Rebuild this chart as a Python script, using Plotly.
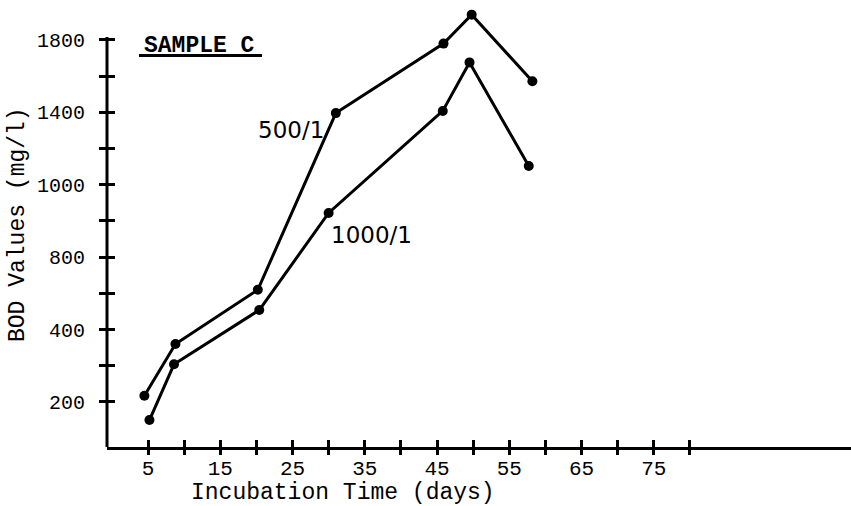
import numpy as np
import plotly.graph_objects as go

# ---- data ----
days_500 = [4.5, 8.8, 20.2, 31.0, 45.9, 49.8, 58.2]
bod_500 = [217, 360, 620, 1396, 1780, 1940, 1572]

days_1000 = [5.2, 8.6, 20.4, 30.0, 45.8, 49.5, 57.7]
bod_1000 = [150, 304, 508, 922, 1408, 1676, 1104]

y_tick_labels = [200, 400, 800, 1000, 1400, 1800]
x_tick_labels = [5, 15, 25, 35, 45, 55, 65, 75]
x_tick_marks = list(range(5, 85, 5))

series_names = ["500/1", "1000/1"]

# the printed y axis is evenly spaced between its (uneven) labels
idx = np.arange(1, len(y_tick_labels) + 1, dtype=float)


def to_axis(values):
    v = np.asarray(values, dtype=float)
    out = np.interp(v, y_tick_labels, idx)
    lo = v < y_tick_labels[0]
    out[lo] = idx[0] + (v[lo] - y_tick_labels[0]) / (y_tick_labels[1] - y_tick_labels[0])
    hi = v > y_tick_labels[-1]
    out[hi] = idx[-1] + (v[hi] - y_tick_labels[-1]) / (y_tick_labels[-1] - y_tick_labels[-2])
    return out


y_tickvals = list(np.arange(1, len(y_tick_labels) + 0.01, 0.5))
y_ticktext = [str(y_tick_labels[int(t) - 1]) if float(t).is_integer() else "" for t in y_tickvals]
x_ticktext = [str(t) if t in x_tick_labels else "" for t in x_tick_marks]

MONO = "Liberation Mono"
X_RANGE = [-0.675, 102.3]
Y_AXIS_TOP = 6.041
Y_RANGE = [0.378, 6.483]

fig = go.Figure()
for days, bod in [(days_500, bod_500), (days_1000, bod_1000)]:
    fig.add_trace(go.Scatter(
        x=days, y=to_axis(bod), mode="lines+markers",
        line=dict(color="black", width=3),
        marker=dict(color="black", size=10),
        cliponaxis=False, showlegend=False,
    ))

fig.update_layout(
    width=851, height=506, autosize=False,
    margin=dict(l=107, r=0, t=5, b=59),
    paper_bgcolor="white", plot_bgcolor="white",
    xaxis=dict(
        range=X_RANGE, tickmode="array", tickvals=x_tick_marks, ticktext=x_ticktext,
        ticks="outside", ticklen=5, tickwidth=2.5, tickcolor="black",
        showline=True, linecolor="black", linewidth=3,
        showgrid=False, zeroline=False, ticklabelstandoff=-5,
        tickfont=dict(family=MONO, size=21, color="black"),
    ),
    yaxis=dict(
        range=Y_RANGE, tickmode="array", tickvals=y_tickvals, ticktext=y_ticktext,
        ticks="outside", ticklen=7, tickwidth=2.5, tickcolor="black",
        showline=False,
        showgrid=False, zeroline=False, ticklabelstandoff=10,
        tickfont=dict(family=MONO, size=20, color="black"),
    ),
    xaxis2=dict(
        range=X_RANGE, overlaying="x", anchor="y", side="bottom",
        tickmode="array", tickvals=x_tick_marks, showticklabels=False,
        ticks="inside", ticklen=7, tickwidth=2.5, tickcolor="black",
        showline=False, showgrid=False, zeroline=False,
    ),
    yaxis2=dict(
        range=Y_RANGE, overlaying="y", anchor="x", side="left",
        tickmode="array", tickvals=y_tickvals, showticklabels=False,
        ticks="inside", ticklen=8, tickwidth=2.5, tickcolor="black",
        showline=False, showgrid=False, zeroline=False,
    ),
)
fig.add_trace(go.Scatter(x=[], y=[], xaxis="x2", yaxis="y2", showlegend=False, hoverinfo="skip"))

# y axis line stops at the top labelled tick
fig.add_shape(type="line", xref="paper", yref="y", x0=0, x1=0,
              y0=Y_RANGE[0], y1=Y_AXIS_TOP, line=dict(color="black", width=3))

W = 744.0
H = 442.0
annotations = [
    dict(text="Incubation Time (days)", xref="paper", yref="paper",
         x=(343 - 107) / W, y=(447 - 493) / H, showarrow=False,
         xanchor="center", yanchor="middle",
         font=dict(family=MONO, size=23, color="black")),
    dict(text="BOD Values (mg/l)", xref="paper", yref="paper",
         x=(18 - 107) / W, y=(447 - 225) / H, showarrow=False, textangle=-90,
         xanchor="center", yanchor="middle",
         font=dict(family=MONO, size=23, color="black")),
    dict(text="SAMPLE C", xref="paper", yref="paper",
         x=(199 - 107) / W, y=(447 - 46) / H, showarrow=False,
         xanchor="center", yanchor="middle",
         font=dict(family=MONO, size=23, color="black", weight="bold")),
    dict(text=series_names[0], xref="x", yref="y", x=24.8, y=4.76, showarrow=False,
         xanchor="center", yanchor="middle",
         font=dict(family="DejaVu Sans", size=23, color="black")),
    dict(text=series_names[1], xref="x", yref="y", x=36.0, y=3.31, showarrow=False,
         xanchor="center", yanchor="middle",
         font=dict(family="DejaVu Sans", size=23, color="black")),
]
fig.update_layout(annotations=annotations)
fig.add_shape(type="line", xref="paper", yref="paper",
              x0=(139 - 107) / W, x1=(262 - 107) / W,
              y0=(447 - 55.5) / H, y1=(447 - 55.5) / H,
              line=dict(color="black", width=3))

fig.write_html("out.html")
